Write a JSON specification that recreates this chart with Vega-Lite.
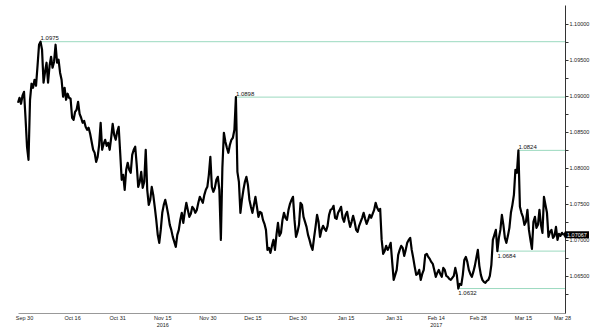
{
"$schema":"https://vega.github.io/schema/vega-lite/v6.json",
"width":547,"height":308,
"autosize":{"type":"none"},
"padding":{"left":18,"top":5,"right":35,"bottom":18},
"background":"white",
"config":{"view":{"stroke":null},"font":"Liberation Sans"},
"datasets":{
"px":[
{"t":"2016-09-28T00:00","v":1.08901},{"t":"2016-09-28T12:00","v":1.08971},{"t":"2016-09-29T00:00","v":1.08887},{"t":"2016-09-29T12:00","v":1.08999},{"t":"2016-09-30T00:00","v":1.09054},{"t":"2016-09-30T12:00","v":1.08693},
{"t":"2016-10-01T00:00","v":1.0829},{"t":"2016-10-01T12:00","v":1.08109},{"t":"2016-10-02T00:00","v":1.08943},{"t":"2016-10-02T12:00","v":1.09166},{"t":"2016-10-03T00:00","v":1.0911},{"t":"2016-10-03T12:00","v":1.09221},{"t":"2016-10-04T00:00","v":1.09138},{"t":"2016-10-04T12:00","v":1.09416},{"t":"2016-10-05T00:00","v":1.09708},{"t":"2016-10-05T12:00","v":1.0975},
{"t":"2016-10-06T00:00","v":1.09638},{"t":"2016-10-06T12:00","v":1.0918},{"t":"2016-10-07T00:00","v":1.09332},{"t":"2016-10-07T12:00","v":1.09458},{"t":"2016-10-08T00:00","v":1.0918},{"t":"2016-10-08T12:00","v":1.09416},{"t":"2016-10-09T00:00","v":1.09541},{"t":"2016-10-09T12:00","v":1.09388},{"t":"2016-10-10T00:00","v":1.09472},{"t":"2016-10-10T12:00","v":1.09708},
{"t":"2016-10-11T00:00","v":1.09458},{"t":"2016-10-11T12:00","v":1.09499},{"t":"2016-10-12T00:00","v":1.09319},{"t":"2016-10-12T12:00","v":1.09221},{"t":"2016-10-13T00:00","v":1.08985},{"t":"2016-10-13T12:00","v":1.0911},{"t":"2016-10-14T00:00","v":1.08943},{"t":"2016-10-14T12:00","v":1.09027},{"t":"2016-10-15T00:00","v":1.08971},{"t":"2016-10-15T12:00","v":1.08957},
{"t":"2016-10-16T00:00","v":1.08693},{"t":"2016-10-16T12:00","v":1.08665},{"t":"2016-10-17T00:00","v":1.08776},{"t":"2016-10-17T12:00","v":1.08804},{"t":"2016-10-18T00:00","v":1.08915},{"t":"2016-10-18T12:00","v":1.08748},{"t":"2016-10-19T00:00","v":1.08693},{"t":"2016-10-19T12:00","v":1.08623},{"t":"2016-10-20T00:00","v":1.08651},{"t":"2016-10-20T12:00","v":1.08568},
{"t":"2016-10-21T00:00","v":1.08526},{"t":"2016-10-21T12:00","v":1.08554},{"t":"2016-10-22T00:00","v":1.0847},{"t":"2016-10-22T12:00","v":1.08359},{"t":"2016-10-23T00:00","v":1.08248},{"t":"2016-10-23T12:00","v":1.08206},{"t":"2016-10-24T00:00","v":1.08081},{"t":"2016-10-24T12:00","v":1.0815},{"t":"2016-10-25T00:00","v":1.08317},{"t":"2016-10-25T12:00","v":1.08623},
{"t":"2016-10-26T00:00","v":1.08248},{"t":"2016-10-26T12:00","v":1.08331},{"t":"2016-10-27T00:00","v":1.08387},{"t":"2016-10-27T12:00","v":1.08303},{"t":"2016-10-28T00:00","v":1.08345},{"t":"2016-10-28T12:00","v":1.08248},{"t":"2016-10-29T00:00","v":1.08415},{"t":"2016-10-29T12:00","v":1.08609},{"t":"2016-10-30T00:00","v":1.08456},{"t":"2016-10-30T12:00","v":1.08387},
{"t":"2016-10-31T00:00","v":1.08498},{"t":"2016-10-31T12:00","v":1.08568},{"t":"2016-11-01T00:00","v":1.08206},{"t":"2016-11-01T12:00","v":1.07831},{"t":"2016-11-02T00:00","v":1.079},{"t":"2016-11-02T12:00","v":1.07692},{"t":"2016-11-03T00:00","v":1.0797},{"t":"2016-11-03T12:00","v":1.08067},{"t":"2016-11-04T00:00","v":1.0797},{"t":"2016-11-04T12:00","v":1.07928},
{"t":"2016-11-05T00:00","v":1.08178},{"t":"2016-11-05T12:00","v":1.08248},{"t":"2016-11-06T00:00","v":1.0829},{"t":"2016-11-06T12:00","v":1.08039},{"t":"2016-11-07T00:00","v":1.07733},{"t":"2016-11-07T12:00","v":1.07803},{"t":"2016-11-08T00:00","v":1.07942},{"t":"2016-11-08T12:00","v":1.07719},{"t":"2016-11-09T00:00","v":1.07803},{"t":"2016-11-09T12:00","v":1.08248},
{"t":"2016-11-10T00:00","v":1.07692},{"t":"2016-11-10T12:00","v":1.07483},{"t":"2016-11-11T00:00","v":1.07552},{"t":"2016-11-11T12:00","v":1.07733},{"t":"2016-11-12T00:00","v":1.07622},{"t":"2016-11-12T12:00","v":1.07455},{"t":"2016-11-13T00:00","v":1.07274},{"t":"2016-11-13T12:00","v":1.07066},{"t":"2016-11-14T00:00","v":1.06955},{"t":"2016-11-14T12:00","v":1.07135},
{"t":"2016-11-15T00:00","v":1.07372},{"t":"2016-11-15T12:00","v":1.07483},{"t":"2016-11-16T00:00","v":1.07552},{"t":"2016-11-16T12:00","v":1.07455},{"t":"2016-11-17T00:00","v":1.07344},{"t":"2016-11-17T12:00","v":1.07205},{"t":"2016-11-18T00:00","v":1.07135},{"t":"2016-11-18T12:00","v":1.07038},{"t":"2016-11-19T00:00","v":1.06968},{"t":"2016-11-19T12:00","v":1.06899},
{"t":"2016-11-20T00:00","v":1.07066},{"t":"2016-11-20T12:00","v":1.07135},{"t":"2016-11-21T00:00","v":1.07274},{"t":"2016-11-21T12:00","v":1.07372},{"t":"2016-11-22T00:00","v":1.07233},{"t":"2016-11-22T12:00","v":1.07386},{"t":"2016-11-23T00:00","v":1.07511},{"t":"2016-11-23T12:00","v":1.07413},{"t":"2016-11-24T00:00","v":1.07316},{"t":"2016-11-24T12:00","v":1.07358},
{"t":"2016-11-25T00:00","v":1.07455},{"t":"2016-11-25T12:00","v":1.07427},{"t":"2016-11-26T00:00","v":1.07372},{"t":"2016-11-26T12:00","v":1.07413},{"t":"2016-11-27T00:00","v":1.07511},{"t":"2016-11-27T12:00","v":1.07594},{"t":"2016-11-28T00:00","v":1.07552},{"t":"2016-11-28T12:00","v":1.07511},{"t":"2016-11-29T00:00","v":1.07622},{"t":"2016-11-29T12:00","v":1.07692},
{"t":"2016-11-30T00:00","v":1.07733},{"t":"2016-11-30T12:00","v":1.079},{"t":"2016-12-01T00:00","v":1.0815},{"t":"2016-12-01T12:00","v":1.07733},{"t":"2016-12-02T00:00","v":1.07664},{"t":"2016-12-02T12:00","v":1.07719},{"t":"2016-12-03T00:00","v":1.07831},{"t":"2016-12-03T12:00","v":1.07872},{"t":"2016-12-04T00:00","v":1.07692},{"t":"2016-12-04T12:00","v":1.06996},
{"t":"2016-12-05T00:00","v":1.07998},{"t":"2016-12-05T12:00","v":1.08484},{"t":"2016-12-06T00:00","v":1.08359},{"t":"2016-12-06T12:00","v":1.08276},{"t":"2016-12-07T00:00","v":1.08206},{"t":"2016-12-07T12:00","v":1.08317},{"t":"2016-12-08T00:00","v":1.08387},{"t":"2016-12-08T12:00","v":1.08415},{"t":"2016-12-09T00:00","v":1.08526},{"t":"2016-12-09T12:00","v":1.0898},
{"t":"2016-12-10T00:00","v":1.07942},{"t":"2016-12-10T12:00","v":1.07803},{"t":"2016-12-11T00:00","v":1.07372},{"t":"2016-12-11T12:00","v":1.07552},{"t":"2016-12-12T00:00","v":1.07692},{"t":"2016-12-12T12:00","v":1.07803},{"t":"2016-12-13T00:00","v":1.07872},{"t":"2016-12-13T12:00","v":1.07761},{"t":"2016-12-14T00:00","v":1.07552},{"t":"2016-12-14T12:00","v":1.07455},
{"t":"2016-12-15T00:00","v":1.07372},{"t":"2016-12-15T12:00","v":1.07483},{"t":"2016-12-16T00:00","v":1.07594},{"t":"2016-12-16T12:00","v":1.07455},{"t":"2016-12-17T00:00","v":1.07316},{"t":"2016-12-17T12:00","v":1.07386},{"t":"2016-12-18T00:00","v":1.07372},{"t":"2016-12-18T12:00","v":1.07274},{"t":"2016-12-19T00:00","v":1.07219},{"t":"2016-12-19T12:00","v":1.07135},
{"t":"2016-12-20T00:00","v":1.06857},{"t":"2016-12-20T12:00","v":1.06885},{"t":"2016-12-21T00:00","v":1.06816},{"t":"2016-12-21T12:00","v":1.06913},{"t":"2016-12-22T00:00","v":1.06996},{"t":"2016-12-22T12:00","v":1.06857},{"t":"2016-12-23T00:00","v":1.07066},{"t":"2016-12-23T12:00","v":1.07233},{"t":"2016-12-24T00:00","v":1.07052},{"t":"2016-12-24T12:00","v":1.07094},
{"t":"2016-12-25T00:00","v":1.07274},{"t":"2016-12-25T12:00","v":1.07372},{"t":"2016-12-26T00:00","v":1.07302},{"t":"2016-12-26T12:00","v":1.07274},{"t":"2016-12-27T00:00","v":1.07413},{"t":"2016-12-27T12:00","v":1.07497},{"t":"2016-12-28T00:00","v":1.07552},{"t":"2016-12-28T12:00","v":1.07594},{"t":"2016-12-29T00:00","v":1.07274},{"t":"2016-12-29T12:00","v":1.07038},
{"t":"2016-12-30T00:00","v":1.07107},{"t":"2016-12-30T12:00","v":1.07205},{"t":"2016-12-31T00:00","v":1.07511},{"t":"2016-12-31T12:00","v":1.07483},{"t":"2017-01-01T00:00","v":1.07316},{"t":"2017-01-01T12:00","v":1.07247},{"t":"2017-01-02T00:00","v":1.07177},{"t":"2017-01-02T12:00","v":1.07066},{"t":"2017-01-03T00:00","v":1.06996},{"t":"2017-01-03T12:00","v":1.06913},
{"t":"2017-01-04T00:00","v":1.06857},{"t":"2017-01-04T12:00","v":1.07024},{"t":"2017-01-05T00:00","v":1.07177},{"t":"2017-01-05T12:00","v":1.07344},{"t":"2017-01-06T00:00","v":1.07247},{"t":"2017-01-06T12:00","v":1.07038},{"t":"2017-01-07T00:00","v":1.07135},{"t":"2017-01-07T12:00","v":1.07191},{"t":"2017-01-08T00:00","v":1.07149},{"t":"2017-01-08T12:00","v":1.07121},
{"t":"2017-01-09T00:00","v":1.07191},{"t":"2017-01-09T12:00","v":1.07344},{"t":"2017-01-10T00:00","v":1.07413},{"t":"2017-01-10T12:00","v":1.07427},{"t":"2017-01-11T00:00","v":1.07469},{"t":"2017-01-11T12:00","v":1.07302},{"t":"2017-01-12T00:00","v":1.07288},{"t":"2017-01-12T12:00","v":1.07372},{"t":"2017-01-13T00:00","v":1.07413},{"t":"2017-01-13T12:00","v":1.07455},
{"t":"2017-01-14T00:00","v":1.07302},{"t":"2017-01-14T12:00","v":1.07247},{"t":"2017-01-15T00:00","v":1.07344},{"t":"2017-01-15T12:00","v":1.07386},{"t":"2017-01-16T00:00","v":1.07274},{"t":"2017-01-16T12:00","v":1.07177},{"t":"2017-01-17T00:00","v":1.07247},{"t":"2017-01-17T12:00","v":1.0733},{"t":"2017-01-18T00:00","v":1.07247},{"t":"2017-01-18T12:00","v":1.07135},
{"t":"2017-01-19T00:00","v":1.07107},{"t":"2017-01-19T12:00","v":1.07191},{"t":"2017-01-20T00:00","v":1.07247},{"t":"2017-01-20T12:00","v":1.07302},{"t":"2017-01-21T00:00","v":1.07372},{"t":"2017-01-21T12:00","v":1.07288},{"t":"2017-01-22T00:00","v":1.07219},{"t":"2017-01-22T12:00","v":1.07274},{"t":"2017-01-23T00:00","v":1.07344},{"t":"2017-01-23T12:00","v":1.07302},
{"t":"2017-01-24T00:00","v":1.07358},{"t":"2017-01-24T12:00","v":1.07413},{"t":"2017-01-25T00:00","v":1.07511},{"t":"2017-01-25T12:00","v":1.07441},{"t":"2017-01-26T00:00","v":1.074},{"t":"2017-01-26T12:00","v":1.07427},{"t":"2017-01-27T00:00","v":1.06996},{"t":"2017-01-27T12:00","v":1.06802},{"t":"2017-01-28T00:00","v":1.06843},{"t":"2017-01-28T12:00","v":1.06913},
{"t":"2017-01-29T00:00","v":1.06857},{"t":"2017-01-29T12:00","v":1.06899},{"t":"2017-01-30T00:00","v":1.06955},{"t":"2017-01-30T12:00","v":1.0669},{"t":"2017-01-31T00:00","v":1.0644},{"t":"2017-01-31T12:00","v":1.0651},{"t":"2017-02-01T00:00","v":1.06579},{"t":"2017-02-01T12:00","v":1.06788},{"t":"2017-02-02T00:00","v":1.06857},{"t":"2017-02-02T12:00","v":1.06913},
{"t":"2017-02-03T00:00","v":1.06885},{"t":"2017-02-03T12:00","v":1.06774},{"t":"2017-02-04T00:00","v":1.06857},{"t":"2017-02-04T12:00","v":1.06955},{"t":"2017-02-05T00:00","v":1.06996},{"t":"2017-02-05T12:00","v":1.07024},{"t":"2017-02-06T00:00","v":1.06857},{"t":"2017-02-06T12:00","v":1.06746},{"t":"2017-02-07T00:00","v":1.06621},{"t":"2017-02-07T12:00","v":1.0651},
{"t":"2017-02-08T00:00","v":1.06523},{"t":"2017-02-08T12:00","v":1.06579},{"t":"2017-02-09T00:00","v":1.0644},{"t":"2017-02-09T12:00","v":1.06523},{"t":"2017-02-10T00:00","v":1.06579},{"t":"2017-02-10T12:00","v":1.06788},{"t":"2017-02-11T00:00","v":1.06802},{"t":"2017-02-11T12:00","v":1.0676},{"t":"2017-02-12T00:00","v":1.06732},{"t":"2017-02-12T12:00","v":1.0669},
{"t":"2017-02-13T00:00","v":1.06663},{"t":"2017-02-13T12:00","v":1.06579},{"t":"2017-02-14T00:00","v":1.06482},{"t":"2017-02-14T12:00","v":1.06537},{"t":"2017-02-15T00:00","v":1.06579},{"t":"2017-02-15T12:00","v":1.06523},{"t":"2017-02-16T00:00","v":1.06482},{"t":"2017-02-16T12:00","v":1.06607},{"t":"2017-02-17T00:00","v":1.06579},{"t":"2017-02-17T12:00","v":1.06496},
{"t":"2017-02-18T00:00","v":1.06482},{"t":"2017-02-18T12:00","v":1.06454},{"t":"2017-02-19T00:00","v":1.0644},{"t":"2017-02-19T12:00","v":1.06468},{"t":"2017-02-20T00:00","v":1.06496},{"t":"2017-02-20T12:00","v":1.06607},{"t":"2017-02-21T00:00","v":1.0651},{"t":"2017-02-21T12:00","v":1.0632},{"t":"2017-02-22T00:00","v":1.06384},{"t":"2017-02-22T12:00","v":1.0637},
{"t":"2017-02-23T00:00","v":1.0651},{"t":"2017-02-23T12:00","v":1.06718},{"t":"2017-02-24T00:00","v":1.0676},{"t":"2017-02-24T12:00","v":1.0669},{"t":"2017-02-25T00:00","v":1.06579},{"t":"2017-02-25T12:00","v":1.06523},{"t":"2017-02-26T00:00","v":1.06482},{"t":"2017-02-26T12:00","v":1.06551},{"t":"2017-02-27T00:00","v":1.06635},{"t":"2017-02-27T12:00","v":1.06746},
{"t":"2017-02-28T00:00","v":1.06857},{"t":"2017-02-28T12:00","v":1.06635},{"t":"2017-03-01T00:00","v":1.0651},{"t":"2017-03-01T12:00","v":1.0644},{"t":"2017-03-02T00:00","v":1.06412},{"t":"2017-03-02T12:00","v":1.06398},{"t":"2017-03-03T00:00","v":1.06426},{"t":"2017-03-03T12:00","v":1.0644},{"t":"2017-03-04T00:00","v":1.06496},{"t":"2017-03-04T12:00","v":1.06649},
{"t":"2017-03-05T00:00","v":1.06996},{"t":"2017-03-05T12:00","v":1.07066},{"t":"2017-03-06T00:00","v":1.07135},{"t":"2017-03-06T12:00","v":1.0684},{"t":"2017-03-07T00:00","v":1.07024},{"t":"2017-03-07T12:00","v":1.07135},{"t":"2017-03-08T00:00","v":1.07344},{"t":"2017-03-08T12:00","v":1.07205},{"t":"2017-03-09T00:00","v":1.07024},{"t":"2017-03-09T12:00","v":1.06955},
{"t":"2017-03-10T00:00","v":1.07052},{"t":"2017-03-10T12:00","v":1.07163},{"t":"2017-03-11T00:00","v":1.07372},{"t":"2017-03-11T12:00","v":1.07483},{"t":"2017-03-12T00:00","v":1.07622},{"t":"2017-03-12T12:00","v":1.0797},{"t":"2017-03-13T00:00","v":1.07928},{"t":"2017-03-13T12:00","v":1.0824},{"t":"2017-03-14T00:00","v":1.07455},{"t":"2017-03-14T12:00","v":1.07372},
{"t":"2017-03-15T00:00","v":1.07316},{"t":"2017-03-15T12:00","v":1.07205},{"t":"2017-03-16T00:00","v":1.07247},{"t":"2017-03-16T12:00","v":1.07413},{"t":"2017-03-17T00:00","v":1.07135},{"t":"2017-03-17T12:00","v":1.06996},{"t":"2017-03-18T00:00","v":1.06871},{"t":"2017-03-18T12:00","v":1.07247},{"t":"2017-03-19T00:00","v":1.07316},{"t":"2017-03-19T12:00","v":1.07163},
{"t":"2017-03-20T00:00","v":1.07205},{"t":"2017-03-20T12:00","v":1.07413},{"t":"2017-03-21T00:00","v":1.07205},{"t":"2017-03-21T12:00","v":1.07094},{"t":"2017-03-22T00:00","v":1.07594},{"t":"2017-03-22T12:00","v":1.07483},{"t":"2017-03-23T00:00","v":1.07372},{"t":"2017-03-23T12:00","v":1.07038},{"t":"2017-03-24T00:00","v":1.07107},{"t":"2017-03-24T12:00","v":1.07135},
{"t":"2017-03-25T00:00","v":1.07024},{"t":"2017-03-25T12:00","v":1.07052},{"t":"2017-03-26T00:00","v":1.07177},{"t":"2017-03-26T12:00","v":1.06996},{"t":"2017-03-27T00:00","v":1.0708},{"t":"2017-03-27T12:00","v":1.07052},{"t":"2017-03-28T00:00","v":1.07094},{"t":"2017-03-28T12:00","v":1.07067}
],
"lev":[
{"start":"2016-10-05T12:00","end":"2017-03-29T00:00","level":1.0975,"lab":"1.0975","pos":"above"},
{"start":"2016-12-09T12:00","end":"2017-03-29T00:00","level":1.0898,"lab":"1.0898","pos":"above"},
{"start":"2017-03-13T12:00","end":"2017-03-29T00:00","level":1.0824,"lab":"1.0824","pos":"above"},
{"start":"2017-03-06T12:00","end":"2017-03-29T00:00","level":1.0684,"lab":"1.0684","pos":"below"},
{"start":"2017-02-21T12:00","end":"2017-03-29T00:00","level":1.0632,"lab":"1.0632","pos":"below"}
],
"last":[{"t":"2017-03-29T00:00","v":1.07067,"lab":"1.07067"}]
},
"encoding":{
"x":{"field":"t","type":"temporal","title":null,
"scale":{"domain":[{"year":2016,"month":9,"date":28},{"year":2017,"month":3,"date":29}]},
"axis":{"orient":"bottom","values":[{"year":2016,"month":9,"date":30},{"year":2016,"month":10,"date":16},{"year":2016,"month":10,"date":31},{"year":2016,"month":11,"date":15},{"year":2016,"month":11,"date":30},{"year":2016,"month":12,"date":15},{"year":2016,"month":12,"date":30},{"year":2017,"month":1,"date":15},{"year":2017,"month":1,"date":31},{"year":2017,"month":2,"date":14},{"year":2017,"month":2,"date":28},{"year":2017,"month":3,"date":15},{"year":2017,"month":3,"date":28}],
"labelExpr":"(month(datum.value)==10 && date(datum.value)==15) ? [timeFormat(datum.value,'%b %d'),'2016'] : ((month(datum.value)==1 && date(datum.value)==14) ? [timeFormat(datum.value,'%b %d'),'2017'] : timeFormat(datum.value,'%b %d'))",
"labelFlush":true,"labelFontSize":5.5,"labelColor":"#222","labelPadding":2,"labelLineHeight":7,"ticks":false,"grid":false,"domainColor":"#999","domainWidth":1.2,"labelOverlap":false}},
"y":{"field":"v","type":"quantitative","title":null,
"scale":{"domain":[1.0598,1.1026],"zero":false,"nice":false},
"axis":{"orient":"right","values":[1.0625,1.065,1.0675,1.07,1.0725,1.075,1.0775,1.08,1.0825,1.085,1.0875,1.09,1.0925,1.095,1.0975,1.1],
"labelExpr":"abs(datum.value*200-round(datum.value*200))<0.001 ? format(datum.value,'.5f') : ''",
"labelFontSize":5.5,"labelColor":"#222","labelPadding":1,"tickSize":3,"tickColor":"#333","domainColor":"#333","grid":false,"labelOverlap":false}}
},
"layer":[
{"data":{"name":"lev"},"mark":{"type":"rule","color":"#9bd9bf","strokeWidth":1},
 "encoding":{"x":{"field":"start","type":"temporal"},"x2":{"field":"end"},"y":{"field":"level","type":"quantitative"}}},
{"data":{"name":"px"},"mark":{"type":"line","color":"#000","strokeWidth":2.2,"strokeJoin":"round"}},
{"data":{"name":"lev"},"transform":[{"filter":"datum.pos=='above'"}],"mark":{"type":"text","align":"left","baseline":"bottom","dy":-0.5,"fontSize":6,"color":"#111"},
 "encoding":{"x":{"field":"start","type":"temporal"},"y":{"field":"level","type":"quantitative"},"text":{"field":"lab"}}},
{"data":{"name":"lev"},"transform":[{"filter":"datum.pos=='below'"}],"mark":{"type":"text","align":"left","baseline":"top","dy":1.5,"fontSize":6,"color":"#111"},
 "encoding":{"x":{"field":"start","type":"temporal"},"y":{"field":"level","type":"quantitative"},"text":{"field":"lab"}}},
{"data":{"name":"last"},"mark":{"type":"point","shape":"M-1,0L0,-1.75L12,-1.75L12,1.75L0,1.75Z","size":16,"filled":true,"color":"#000","opacity":1},
 "encoding":{"x":{"field":"t","type":"temporal"},"y":{"field":"v","type":"quantitative"}}},
{"data":{"name":"last"},"mark":{"type":"text","align":"left","baseline":"middle","dx":2,"fontSize":5.5,"color":"#fff"},
 "encoding":{"x":{"field":"t","type":"temporal"},"y":{"field":"v","type":"quantitative"},"text":{"field":"lab"}}}
]
}
